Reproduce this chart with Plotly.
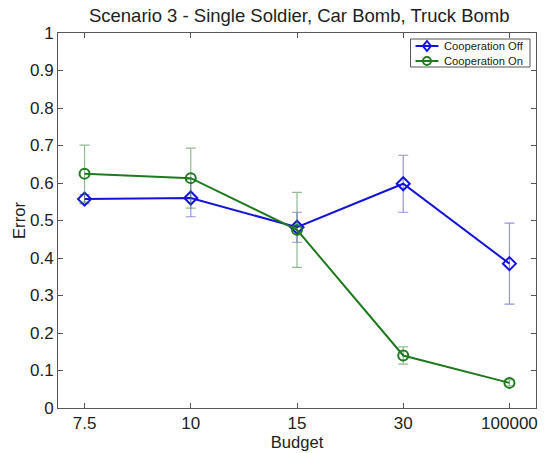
import plotly.graph_objects as go

budgets = ["7.5", "10", "15", "30", "100000"]
coop_off = [0.557, 0.560, 0.482, 0.598, 0.385]
coop_off_err = [0.012, 0.050, 0.040, 0.076, 0.108]
coop_on = [0.625, 0.613, 0.475, 0.140, 0.067]
coop_on_err = [0.076, 0.080, 0.100, 0.023, 0.008]
y_ticks = [0, 0.1, 0.2, 0.3, 0.4, 0.5, 0.6, 0.7, 0.8, 0.9, 1]
series_names = ["Cooperation Off", "Cooperation On"]

BLUE = "#1414d8"
GREEN = "#1f7a1f"
FONT = "Liberation Sans, Arial"
TEXT = "#222222"

W, H = 546, 453
M_L, M_R, M_T, M_B = 58, 8, 33, 45
PW, PH = W - M_L - M_R, H - M_T - M_B


def px_x(p):
    # pixel column -> paper x
    return (p - M_L) / PW


def px_y(p):
    # pixel row -> paper y
    return (H - M_B - p) / PH


fig = go.Figure()

fig.add_trace(go.Scatter(
    x=budgets, y=coop_off, name=series_names[0],
    mode="lines+markers",
    line=dict(color=BLUE, width=2),
    marker=dict(symbol="diamond-open", size=10, color=BLUE, line=dict(width=2)),
    error_y=dict(type="data", array=coop_off_err, visible=True,
                 color="rgba(60,60,200,0.55)", thickness=1.2, width=5),
))
fig.add_trace(go.Scatter(
    x=budgets, y=coop_on, name=series_names[1],
    mode="lines+markers",
    line=dict(color=GREEN, width=2),
    marker=dict(symbol="circle-open", size=10, color=GREEN, line=dict(width=2)),
    error_y=dict(type="data", array=coop_on_err, visible=True,
                 color="rgba(60,130,60,0.55)", thickness=1.2, width=5),
))

# Compact boxed legend in the upper-right corner
shapes = [dict(type="rect", xref="paper", yref="paper",
               x0=px_x(412), x1=px_x(532), y0=px_y(67), y1=px_y(39),
               line=dict(color="#555555", width=1), fillcolor="white", layer="above")]
annotations = []
rows = [(46, BLUE, "diamond"), (61, GREEN, "circle")]
for (row_y, color, sym), name in zip(rows, series_names):
    shapes.append(dict(type="line", xref="paper", yref="paper",
                       x0=px_x(417), x1=px_x(440), y0=px_y(row_y), y1=px_y(row_y),
                       line=dict(color=color, width=2), layer="above"))
    cx, r = 428.5, 4
    if sym == "diamond":
        path = "M {:.5f},{:.5f} L {:.5f},{:.5f} L {:.5f},{:.5f} L {:.5f},{:.5f} Z".format(
            px_x(cx), px_y(row_y - r - 1), px_x(cx + r), px_y(row_y),
            px_x(cx), px_y(row_y + r + 1), px_x(cx - r), px_y(row_y))
        shapes.append(dict(type="path", xref="paper", yref="paper", path=path,
                           line=dict(color=color, width=2), layer="above"))
    else:
        shapes.append(dict(type="circle", xref="paper", yref="paper",
                           x0=px_x(cx - r), x1=px_x(cx + r),
                           y0=px_y(row_y + r), y1=px_y(row_y - r),
                           line=dict(color=color, width=2), layer="above"))
    annotations.append(dict(text=name, xref="paper", yref="paper",
                            x=px_x(444), y=px_y(row_y), xanchor="left", yanchor="middle",
                            showarrow=False,
                            font=dict(family=FONT, size=11.2, color=TEXT)))

axis_style = dict(
    showline=True, linecolor="#555555", linewidth=1, mirror="ticks",
    ticks="inside", ticklen=5, tickcolor="#555555",
    showgrid=False, zeroline=False,
    tickfont=dict(family=FONT, size=17, color=TEXT),
)

fig.update_layout(
    width=W, height=H,
    margin=dict(l=M_L, r=M_R, t=M_T, b=M_B),
    paper_bgcolor="white", plot_bgcolor="white",
    title=dict(text="Scenario 3 - Single Soldier, Car Bomb, Truck Bomb",
               x=0.548, xanchor="center", y=1 - 16 / H, yanchor="middle",
               font=dict(family=FONT, size=18.5, color=TEXT)),
    xaxis=dict(type="category", range=[-0.25, 4.25],
               title=dict(text="Budget", standoff=0,
                          font=dict(family=FONT, size=16.6, color=TEXT)),
               **axis_style),
    yaxis=dict(range=[0, 1], tickvals=y_ticks,
               ticktext=[("%g" % v) for v in y_ticks],
               title=dict(text="Error", standoff=0,
                          font=dict(family=FONT, size=16.6, color=TEXT)),
               **axis_style),
    shapes=shapes,
    annotations=annotations,
    showlegend=False,
)

fig.write_html("out.html")
